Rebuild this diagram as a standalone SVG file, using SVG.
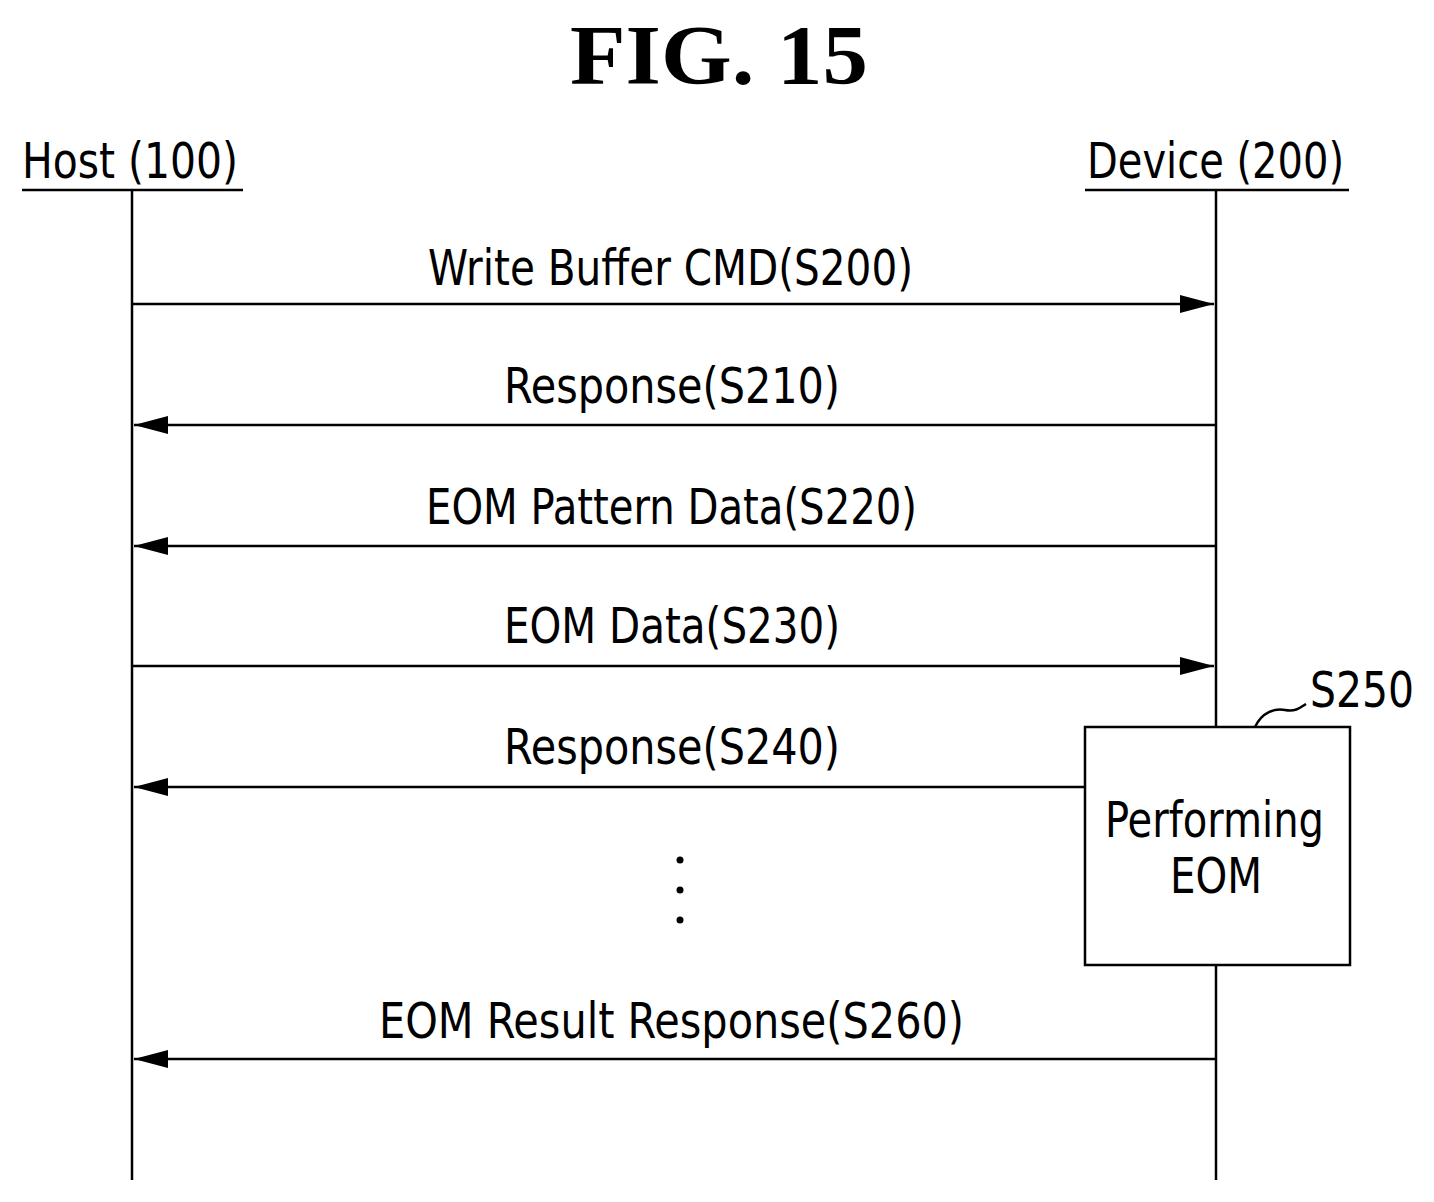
<svg xmlns="http://www.w3.org/2000/svg" width="1434" height="1202" viewBox="0 0 1434 1202">
<style>
.t{font-family:"DejaVu Sans Condensed","Liberation Sans",sans-serif;font-size:50px;fill:#000}
.l{stroke:#000;stroke-width:2.5;fill:none}
</style>
<defs>
<marker id="a" markerWidth="34" markerHeight="18" refX="34" refY="9" orient="auto" markerUnits="userSpaceOnUse"><path d="M0,0 L34,9 L0,18 Z" fill="#000"/></marker>
</defs>
<rect width="1434" height="1202" fill="#fff"/>
<text x="719" y="84" text-anchor="middle" font-family="Liberation Serif,serif" font-weight="bold" font-size="84" textLength="298" lengthAdjust="spacingAndGlyphs">FIG. 15</text>
<g id="host">
<text class="t" x="22" y="178" textLength="216" lengthAdjust="spacingAndGlyphs">Host (100)</text>
<line class="l" x1="22" y1="190" x2="243" y2="190"/>
<line class="l" x1="132" y1="190" x2="132" y2="1180"/>
</g>
<g id="device">
<text class="t" x="1087" y="178" textLength="257" lengthAdjust="spacingAndGlyphs">Device (200)</text>
<line class="l" x1="1085" y1="190" x2="1349" y2="190"/>
<line class="l" x1="1216" y1="190" x2="1216" y2="727"/>
<line class="l" x1="1216" y1="965" x2="1216" y2="1180"/>
</g>
<g id="s250">
<rect class="l" x="1085" y="727" width="265" height="238"/>
<text class="t" x="1105" y="837" textLength="219" lengthAdjust="spacingAndGlyphs">Performing</text>
<text class="t" x="1170" y="893" textLength="92" lengthAdjust="spacingAndGlyphs">EOM</text>
<text class="t" x="1310" y="707" textLength="104" lengthAdjust="spacingAndGlyphs">S250</text>
<path class="l" d="M1255,727 C1262,712 1275,708 1285,710 C1295,712 1300,708 1306,704"/>
</g>
<g id="connectors">
<line class="l" x1="132" y1="304" x2="1214" y2="304" marker-end="url(#a)"/>
<line class="l" x1="1216" y1="425" x2="134" y2="425" marker-end="url(#a)"/>
<line class="l" x1="1216" y1="546" x2="134" y2="546" marker-end="url(#a)"/>
<line class="l" x1="132" y1="666" x2="1214" y2="666" marker-end="url(#a)"/>
<line class="l" x1="1085" y1="787" x2="134" y2="787" marker-end="url(#a)"/>
<line class="l" x1="1216" y1="1059" x2="134" y2="1059" marker-end="url(#a)"/>
</g>
<g id="labels">
<text class="t" x="428" y="285" textLength="485" lengthAdjust="spacingAndGlyphs">Write Buffer CMD(S200)</text>
<text class="t" x="504" y="403" textLength="336" lengthAdjust="spacingAndGlyphs">Response(S210)</text>
<text class="t" x="426" y="524" textLength="491" lengthAdjust="spacingAndGlyphs">EOM Pattern Data(S220)</text>
<text class="t" x="504" y="643" textLength="336" lengthAdjust="spacingAndGlyphs">EOM Data(S230)</text>
<text class="t" x="504" y="764" textLength="336" lengthAdjust="spacingAndGlyphs">Response(S240)</text>
<text class="t" x="379" y="1038" textLength="585" lengthAdjust="spacingAndGlyphs">EOM Result Response(S260)</text>
</g>
<g id="dots" fill="#000">
<circle cx="680" cy="860" r="3.5"/><circle cx="680" cy="890" r="3.5"/><circle cx="680" cy="920" r="3.5"/>
</g>
</svg>
